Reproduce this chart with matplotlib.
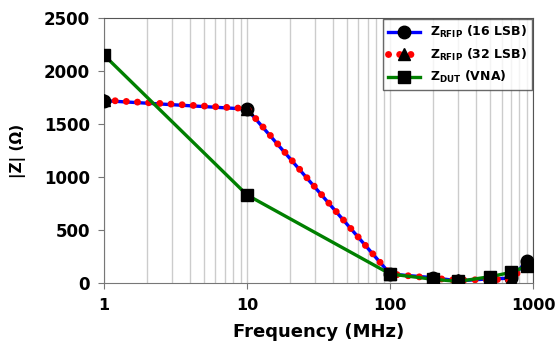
import numpy as np
import matplotlib
matplotlib.use('Agg')
import matplotlib.pyplot as plt
from matplotlib.ticker import FixedLocator, NullFormatter

plt.rcParams['font.family'] = ['DejaVu Sans']
plt.rcParams['font.weight'] = 'bold'
plt.rcParams['mathtext.fontset'] = 'custom'
plt.rcParams['mathtext.rm'] = 'DejaVu Sans:bold'
plt.rcParams['mathtext.bf'] = 'DejaVu Sans:bold'
plt.rcParams['mathtext.it'] = 'DejaVu Sans:bold'

# datos
freq = [1, 10, 100, 200, 300, 500, 700, 900]
z_16lsb = [1720, 1640, 85, 50, 20, 40, 45, 205]
z_32lsb = [1725, 1645, 85, 45, 25, 35, 30, 190]
z_dut = [2150, 830, 85, 35, 15, 60, 100, 160]

fig = plt.figure(figsize=(5.59, 3.52), dpi=100)
ax = fig.add_axes([0.186, 0.196, 0.768, 0.753])

ax.plot(freq, z_16lsb, color='blue', linewidth=2.4, marker='o', markersize=9,
        markerfacecolor='black', markeredgecolor='black', label=r'$\mathbf{Z_{RFIP}}$ (16 LSB)', zorder=3)
ax.plot(freq, z_32lsb, color='red', linewidth=5, linestyle=(0, (0.01, 1.6)), dash_capstyle='round',
        marker='^', markersize=9, markerfacecolor='black', markeredgecolor='black',
        label=r'$\mathbf{Z_{RFIP}}$ (32 LSB)', zorder=4)
ax.plot(freq, z_dut, color='green', linewidth=2.4, marker='s', markersize=9,
        markerfacecolor='black', markeredgecolor='black', label=r'$\mathbf{Z_{DUT}}$ (VNA)', zorder=5)

ax.set_xscale('log')
ax.set_xlim(1, 1000)
ax.set_ylim(0, 2500)
ax.set_xticks([1, 10, 100, 1000])
ax.set_xticklabels(['1', '10', '100', '1000'])
ax.xaxis.set_minor_locator(FixedLocator([m * d for d in [1, 10, 100] for m in range(2, 10)]))
ax.xaxis.set_minor_formatter(NullFormatter())
ax.set_yticks([0, 500, 1000, 1500, 2000, 2500])
ax.grid(True, which='both', axis='x', color='#cccccc', linewidth=1)
ax.tick_params(axis='x', which='minor', length=0)
ax.tick_params(axis='both', which='major', labelsize=12, length=4, color='#777777')
ax.tick_params(axis='x', which='major', labelsize=11.5, pad=7)
ax.tick_params(axis='y', which='major', pad=6)
for s in ['left', 'bottom']:
    ax.spines[s].set_color('#777777')
for s in ['top', 'right']:
    ax.spines[s].set_color('#555555')

ax.set_xlabel('Frequency (MHz)', fontsize=13, fontweight='bold', labelpad=7)
ax.set_ylabel('|Z| (Ω)', fontsize=11, fontweight='bold', labelpad=13)

leg = ax.legend(loc='upper right', fontsize=9, frameon=True, fancybox=False,
                edgecolor='#444444', borderaxespad=0.1, handlelength=2.6, labelspacing=0.5)
leg.get_frame().set_linewidth(1)

fig.savefig('out.png', dpi=100)
